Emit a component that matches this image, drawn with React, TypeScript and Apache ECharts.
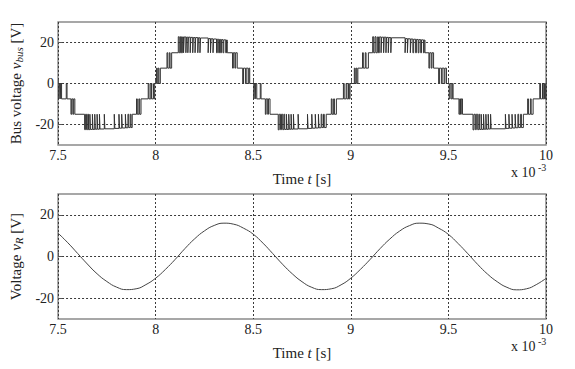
import React, { useEffect, useRef } from 'react';
import * as echarts from 'echarts';

// x axis ticks (x 10^-3 s) and y axis tick labels
const xMin = 7.5;
const xMax = 10;
const xStep = 0.5;
const yTickValues = [-20, 0, 20];

// Bus voltage v_bus [V] : switching events [t (ms), level after switching]
const busNeg1 = [
  [7.500, 0], [7.504, -7.5], [7.507, 0], [7.511, -7.5], [7.514, 0], [7.518, -7.5], [7.542, 0], [7.546, -7.5],
  [7.566, -15], [7.570, -7.5], [7.576, -15], [7.580, -7.5], [7.586, -15],
  [7.636, -22.5], [7.641, -15], [7.646, -22.5], [7.652, -15], [7.656, -22.5], [7.663, -15], [7.666, -22.4],
  [7.676, -15], [7.679, -22.4], [7.688, -15], [7.691, -22.3], [7.700, -15], [7.703, -22.3], [7.712, -15],
  [7.715, -22.2], [7.737, -15], [7.740, -22.1],
  [7.788, -15], [7.791, -21.9], [7.812, -15], [7.815, -21.8], [7.826, -15], [7.829, -21.7], [7.845, -15],
  [7.848, -21.6], [7.858, -15], [7.862, -21.5], [7.870, -15], [7.874, -21.5], [7.880, -15],
  [7.902, -7.5], [7.906, -15], [7.914, -7.5], [7.918, -15], [7.925, -7.5],
  [7.962, 0], [7.966, -7.5], [7.975, 0], [7.979, -7.5], [7.988, 0], [7.991, -7.5], [7.995, 0],
];
const busPos1 = [
  [8.004, 7.5], [8.008, 0], [8.013, 7.5], [8.017, 0], [8.024, 7.5],
  [8.058, 15], [8.062, 7.5], [8.070, 15], [8.074, 7.5], [8.082, 15],
  [8.116, 22.8], [8.121, 15], [8.127, 22.8], [8.132, 15], [8.137, 22.7], [8.143, 15], [8.146, 22.7], [8.155, 15],
  [8.158, 22.6], [8.165, 15], [8.168, 22.6], [8.177, 15], [8.180, 22.5], [8.190, 15], [8.193, 22.4], [8.202, 15],
  [8.205, 22.4], [8.216, 15], [8.219, 22.3], [8.227, 15], [8.230, 22.2],
  [8.269, 15], [8.272, 21.9], [8.281, 15], [8.284, 21.8], [8.294, 15], [8.297, 21.7], [8.312, 15], [8.316, 21.6],
  [8.323, 15], [8.327, 21.5], [8.333, 15], [8.337, 21.4], [8.345, 15], [8.349, 21.3], [8.359, 15], [8.363, 21.2],
  [8.367, 15],
  [8.394, 7.5], [8.398, 15], [8.406, 7.5], [8.410, 15], [8.418, 7.5],
  [8.446, 0], [8.450, 7.5], [8.460, 0], [8.464, 7.5], [8.474, 0], [8.478, 7.5], [8.482, 0],
];
const busNeg2 = [
  [8.503, -7.5], [8.506, 0], [8.510, -7.5], [8.513, 0], [8.518, -7.5], [8.536, 0], [8.540, -7.5],
  [8.562, -15], [8.566, -7.5], [8.574, -15], [8.578, -7.5], [8.586, -15],
  [8.628, -22.6], [8.633, -15], [8.640, -22.5], [8.645, -15], [8.651, -22.5], [8.657, -15], [8.661, -22.4],
  [8.670, -15], [8.673, -22.4], [8.682, -15], [8.685, -22.3], [8.694, -15], [8.697, -22.3], [8.706, -15],
  [8.709, -22.2], [8.730, -15], [8.733, -22.1],
  [8.778, -15], [8.781, -21.9], [8.800, -15], [8.803, -21.8], [8.818, -15], [8.821, -21.7], [8.834, -15],
  [8.837, -21.6], [8.848, -15], [8.852, -21.5], [8.860, -15], [8.864, -21.5], [8.874, -15],
  [8.900, -7.5], [8.904, -15], [8.912, -7.5], [8.916, -15], [8.926, -7.5],
  [8.962, 0], [8.966, -7.5], [8.976, 0], [8.980, -7.5], [8.988, 0], [8.992, -7.5], [8.996, 0],
];
const busPos2 = [
  [9.018, 7.5], [9.022, 0], [9.027, 7.5], [9.031, 0], [9.036, 7.5],
  [9.060, 15], [9.064, 7.5], [9.074, 15], [9.078, 7.5], [9.090, 15],
  [9.112, 22.8], [9.117, 15], [9.124, 22.8], [9.129, 15], [9.136, 22.7], [9.142, 15], [9.146, 22.7], [9.155, 15],
  [9.158, 22.6], [9.168, 15], [9.171, 22.6], [9.180, 15], [9.183, 22.5], [9.192, 15], [9.195, 22.4], [9.205, 15],
  [9.208, 22.3],
  [9.278, 15], [9.281, 21.9], [9.290, 15], [9.293, 21.8], [9.305, 15], [9.308, 21.7], [9.318, 15], [9.322, 21.6],
  [9.332, 15], [9.336, 21.5], [9.345, 15], [9.349, 21.4], [9.358, 15], [9.362, 21.3], [9.372, 15], [9.376, 21.2],
  [9.380, 15],
  [9.400, 7.5], [9.404, 15], [9.412, 7.5], [9.416, 15], [9.424, 7.5],
  [9.450, 0], [9.454, 7.5], [9.464, 0], [9.468, 7.5], [9.478, 0], [9.482, 7.5], [9.490, 0],
];
const busNeg3 = [
  [9.504, -7.5], [9.508, 0], [9.514, -7.5], [9.520, 0], [9.524, -7.5],
  [9.554, -15], [9.558, -7.5], [9.562, -15], [9.566, -7.5], [9.572, -15],
  [9.626, -22.6], [9.631, -15], [9.638, -22.5], [9.643, -15], [9.650, -22.5], [9.656, -15], [9.660, -22.4],
  [9.668, -15], [9.671, -22.4], [9.680, -15], [9.683, -22.3], [9.692, -15], [9.695, -22.3], [9.704, -15],
  [9.707, -22.2], [9.716, -15], [9.719, -22.1],
  [9.792, -15], [9.795, -21.9], [9.810, -15], [9.813, -21.8], [9.826, -15], [9.829, -21.7], [9.842, -15],
  [9.845, -21.6], [9.856, -15], [9.860, -21.5], [9.870, -15], [9.874, -21.5], [9.884, -15],
  [9.906, -7.5], [9.910, -15], [9.920, -7.5], [9.924, -15], [9.934, -7.5],
  [9.968, 0], [9.972, -7.5], [9.982, 0], [9.986, -7.5], [9.992, 0], [9.996, -7.5], [10.0, 0],
];

// Voltage v_R [V] sampled every 0.05 ms
const timeR = [
  7.5, 7.55, 7.6, 7.65, 7.7, 7.75, 7.8, 7.85, 7.9, 7.95,
  8.0, 8.05, 8.1, 8.15, 8.2, 8.25, 8.3, 8.35, 8.4, 8.45,
  8.5, 8.55, 8.6, 8.65, 8.7, 8.75, 8.8, 8.85, 8.9, 8.95,
  9.0, 9.05, 9.1, 9.15, 9.2, 9.25, 9.3, 9.35, 9.4, 9.45,
  9.5, 9.55, 9.6, 9.65, 9.7, 9.75, 9.8, 9.85, 9.9, 9.95, 10.0,
];
const vR = [
  11.2, 6.6, 1.5, -3.6, -8.3, -12.0, -14.7, -15.9, -15.5, -13.5,
  -10.4, -6.2, -1.4, 3.8, 8.5, 12.3, 14.9, 16.0, 15.5, 13.6,
  10.7, 6.4, 1.4, -3.7, -8.3, -12.1, -14.8, -15.9, -15.5, -13.6,
  -10.4, -6.1, -1.3, 3.8, 8.4, 12.2, 14.8, 16.0, 15.6, 13.6,
  10.6, 6.2, 1.3, -3.8, -8.4, -12.1, -14.8, -16.0, -15.5, -13.5, -10.5,
];

const FONT = 'Liberation Serif';
const TXT = '#222';
const GRIDLINE = '#3a3a3a';

export default function App() {
  const ref = useRef<HTMLDivElement>(null);
  useEffect(() => {
    document.body.style.margin = '0';
    const chart = echarts.init(ref.current as HTMLDivElement, null, { renderer: 'svg' });
    const busData = [...busNeg1, ...busPos1, ...busNeg2, ...busPos2, ...busNeg3];
    const vrData = timeR.map((t, i) => [t, vR[i]]);

    const richName = {
      a: { fontFamily: FONT, fontSize: 15, color: TXT, lineHeight: 18, verticalAlign: 'middle' },
      i: { fontFamily: FONT, fontSize: 15, color: TXT, fontStyle: 'italic', lineHeight: 18, verticalAlign: 'middle' },
      s: { fontFamily: FONT, fontSize: 11, color: TXT, fontStyle: 'italic', verticalAlign: 'bottom' },
    };

    const mkX = (gi: number) => ({
      type: 'value',
      gridIndex: gi,
      min: xMin,
      max: xMax,
      interval: xStep,
      axisLine: { show: false },
      axisTick: { show: true, inside: true, length: 4, lineStyle: { color: '#555' } },
      axisLabel: { color: TXT, fontFamily: FONT, fontSize: 14, margin: 3, lineHeight: 14 },
      splitLine: { show: true, lineStyle: { color: GRIDLINE, type: [2, 2], width: 1 } },
      name: '{a|Time }{i|t}{a| [s]}',
      nameLocation: 'middle',
      nameGap: 25,
      nameTextStyle: { fontFamily: FONT, rich: richName },
    });
    const mkY = (gi: number, name: string) => ({
      type: 'value',
      gridIndex: gi,
      min: -30,
      max: 30,
      axisLine: { show: false },
      axisTick: { show: true, inside: true, length: 4, customValues: yTickValues, lineStyle: { color: '#555' } },
      axisLabel: { color: TXT, fontFamily: FONT, fontSize: 14, margin: 4, customValues: yTickValues },
      splitLine: { show: true, lineStyle: { color: GRIDLINE, type: [2, 2], width: 1 } },
      name,
      nameLocation: 'middle',
      nameRotate: 90,
      nameGap: 21,
      nameTextStyle: { fontFamily: FONT, rich: richName },
    });

    const expText = (top: number) => [
      {
        type: 'text',
        x: 511,
        y: top,
        style: { text: 'x 10', font: '14px "Liberation Serif"', fill: TXT, textAlign: 'left', textVerticalAlign: 'top' },
      },
      {
        type: 'text',
        x: 538,
        y: top - 3,
        style: { text: '-3', font: '10px "Liberation Serif"', fill: TXT, textAlign: 'left', textVerticalAlign: 'top' },
      },
    ];

    chart.setOption({
      animation: false,
      backgroundColor: '#ffffff',
      textStyle: { fontFamily: FONT },
      grid: [
        { left: 51, top: 22, width: 495, height: 123, show: true, borderColor: '#8a8a8a', borderWidth: 1.5, backgroundColor: 'transparent' },
        { left: 51, top: 194, width: 495, height: 125, show: true, borderColor: '#8a8a8a', borderWidth: 1.5, backgroundColor: 'transparent' },
      ],
      xAxis: [mkX(0), mkX(1)],
      yAxis: [
        mkY(0, '{a|Bus voltage }{i|v}{s|bus}{a| [V]}'),
        mkY(1, '{a|Voltage }{i|v}{s|R}{a| [V]}'),
      ],
      series: [
        {
          type: 'line',
          xAxisIndex: 0,
          yAxisIndex: 0,
          data: busData,
          step: 'end',
          showSymbol: false,
          symbol: 'none',
          lineStyle: { color: '#333', width: 1 },
          z: 5,
        },
        {
          type: 'line',
          xAxisIndex: 1,
          yAxisIndex: 1,
          data: vrData,
          smooth: true,
          showSymbol: false,
          symbol: 'none',
          lineStyle: { color: '#444', width: 1 },
          z: 5,
        },
      ],
      graphic: [...expText(165), ...expText(339)],
    });
    return () => chart.dispose();
  }, []);
  return <div ref={ref} style={{ width: 575, height: 369 }} />;
}
